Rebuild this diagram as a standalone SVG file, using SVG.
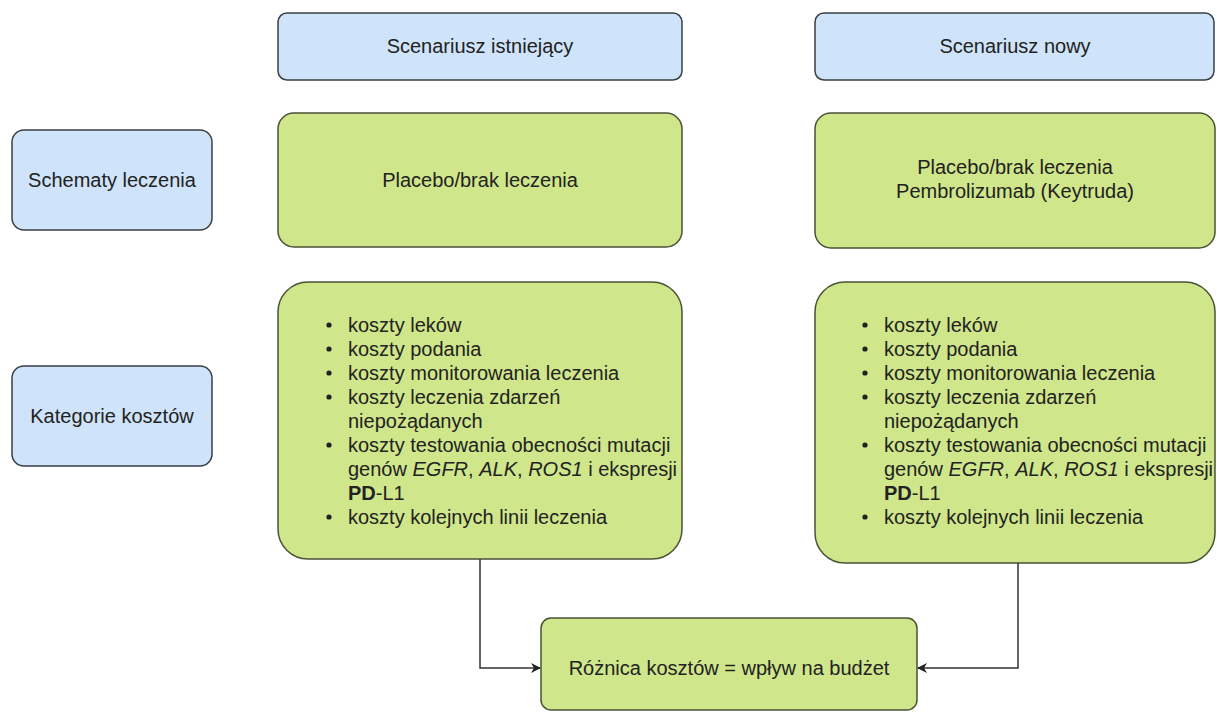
<svg xmlns="http://www.w3.org/2000/svg" width="1217" height="713" viewBox="0 0 1217 713">
<defs>
<style>
.blue{fill:#cfe4fa;stroke:#3a3f44;stroke-width:1.5}
.green{fill:#d0e68a;stroke:#4a5236;stroke-width:1.5}
text{font-family:"Liberation Sans",Arial,sans-serif;font-size:20px;fill:#222}
.c{text-anchor:middle}
.conn{fill:none;stroke:#333;stroke-width:1.5}
</style>
<marker id="arr" viewBox="0 0 10 10" refX="9" refY="5" markerWidth="10" markerHeight="10" orient="auto" markerUnits="userSpaceOnUse">
<path d="M0,0 L10,5 L0,10 L3,5 Z" fill="#222"/>
</marker>
</defs>
<rect width="1217" height="713" fill="#fff"/>
<g id="scen-istn"><rect class="blue" x="278" y="13" width="404" height="67" rx="9"/><text class="c" x="480" y="53">Scenariusz istniejący</text></g>
<g id="scen-nowy"><rect class="blue" x="815" y="13" width="399" height="67" rx="9"/><text class="c" x="1015" y="53">Scenariusz nowy</text></g>
<g id="schematy"><rect class="blue" x="12" y="130" width="200" height="100" rx="12"/><text class="c" x="112" y="187">Schematy leczenia</text></g>
<g id="kategorie"><rect class="blue" x="12" y="366" width="200" height="100" rx="12"/><text class="c" x="112" y="423">Kategorie kosztów</text></g>
<g id="leczenie-istn"><rect class="green" x="278" y="113" width="404" height="134" rx="16"/><text class="c" x="480" y="187">Placebo/brak leczenia</text></g>
<g id="leczenie-nowy"><rect class="green" x="815" y="113" width="400" height="135" rx="16"/><text class="c" x="1015" y="174">Placebo/brak leczenia</text><text class="c" x="1015" y="198">Pembrolizumab (Keytruda)</text></g>
<g id="koszty-istn"><rect class="green" x="278" y="282" width="404" height="277" rx="30"/>
<g fill="#222"><circle cx="329" cy="325" r="2.6"/><circle cx="329" cy="349" r="2.6"/><circle cx="329" cy="373" r="2.6"/><circle cx="329" cy="397" r="2.6"/><circle cx="329" cy="445" r="2.6"/><circle cx="329" cy="517" r="2.6"/></g>
<text x="348" y="332">koszty leków</text>
<text x="348" y="356">koszty podania</text>
<text x="348" y="380">koszty monitorowania leczenia</text>
<text x="348" y="404">koszty leczenia zdarzeń</text>
<text x="348" y="428">niepożądanych</text>
<text x="348" y="452">koszty testowania obecności mutacji</text>
<text x="348" y="476">genów <tspan font-style="italic">EGFR</tspan>, <tspan font-style="italic">ALK</tspan>, <tspan font-style="italic">ROS1</tspan> i ekspresji</text>
<text x="348" y="500"><tspan font-weight="bold">PD</tspan>-L1</text>
<text x="348" y="524">koszty kolejnych linii leczenia</text>
</g>
<g id="koszty-nowy"><rect class="green" x="815" y="282" width="400" height="281" rx="30"/>
<g fill="#222"><circle cx="865" cy="325" r="2.6"/><circle cx="865" cy="349" r="2.6"/><circle cx="865" cy="373" r="2.6"/><circle cx="865" cy="397" r="2.6"/><circle cx="865" cy="445" r="2.6"/><circle cx="865" cy="517" r="2.6"/></g>
<text x="884" y="332">koszty leków</text>
<text x="884" y="356">koszty podania</text>
<text x="884" y="380">koszty monitorowania leczenia</text>
<text x="884" y="404">koszty leczenia zdarzeń</text>
<text x="884" y="428">niepożądanych</text>
<text x="884" y="452">koszty testowania obecności mutacji</text>
<text x="884" y="476">genów <tspan font-style="italic">EGFR</tspan>, <tspan font-style="italic">ALK</tspan>, <tspan font-style="italic">ROS1</tspan> i ekspresji</text>
<text x="884" y="500"><tspan font-weight="bold">PD</tspan>-L1</text>
<text x="884" y="524">koszty kolejnych linii leczenia</text>
</g>
<g id="roznica"><rect class="green" x="541" y="618" width="376" height="92" rx="10"/><text class="c" x="729" y="675">Różnica kosztów = wpływ na budżet</text></g>
<g id="connectors">
<path class="conn" d="M480,559 V668 H540" marker-end="url(#arr)"/>
<path class="conn" d="M1018,563 V668 H918" marker-end="url(#arr)"/>
</g>
</svg>
